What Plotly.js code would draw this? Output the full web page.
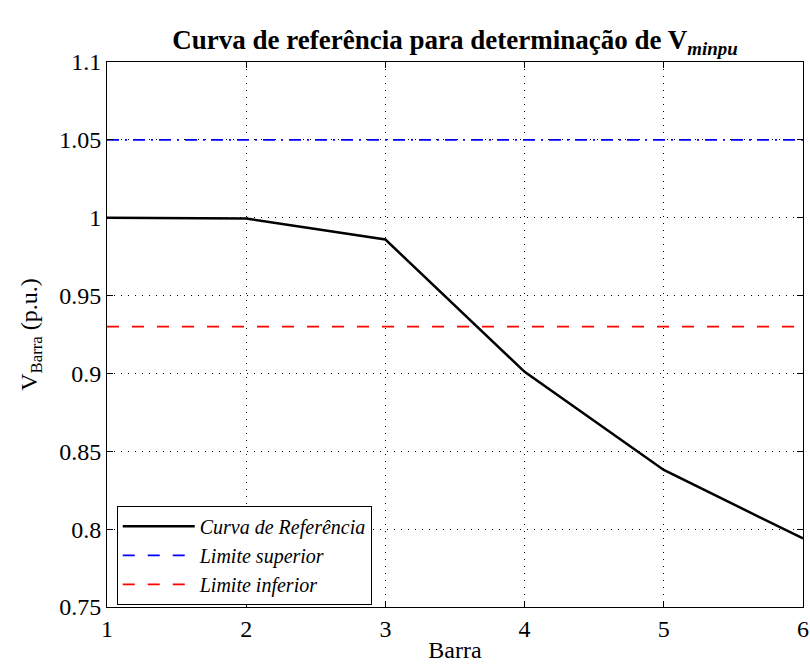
<!DOCTYPE html>
<html><head><meta charset="utf-8">
<script src="https://cdn.plot.ly/plotly-3.0.1.min.js"></script>
<style>body{margin:0;background:#fff}#c{width:810px;height:666px}</style>
</head><body><div id="c"></div>
<script>
const barra = [1, 2, 3, 4, 5, 6];
const vRef = [1.0, 0.9995, 0.986, 0.901, 0.838, 0.794];
const limSup = [1.05, 1.05];
const limInf = [0.93, 0.93];
const limX = [1, 6];
const names = ['Curva de Referência', 'Limite superior', 'Limite inferior'];

const F = '"Liberation Serif", "Times New Roman", Times, serif';
const traces = [
  {x: barra, y: vRef, mode: 'lines', name: '<i>' + names[0] + '</i>', line: {color: '#000', width: 2.5}},
  {x: limX, y: limSup, mode: 'lines', showlegend: false, line: {color: '#0000ff', width: 1.8, dash: '12px,6px,2px,6px'}},
  {x: [null], y: [null], mode: 'lines', name: '<i>' + names[1] + '</i>', line: {color: '#0000ff', width: 1.8, dash: '12px,13px'}},
  {x: limX, y: limInf, mode: 'lines', name: '<i>' + names[2] + '</i>', line: {color: '#ff0000', width: 1.8, dash: '12px,13px'}}
];
const ax = {
  showline: true, linecolor: '#000', linewidth: 1, mirror: 'ticks',
  ticks: 'inside', ticklen: 6, tickcolor: '#000',
  showgrid: true, gridcolor: '#000', griddash: '1px,6px', gridwidth: 1,
  zeroline: false, tickfont: {family: F, size: 24, color: '#000'}
};
const layout = {
  width: 810, height: 666,
  margin: {l: 107, r: 7, t: 62, b: 59},
  paper_bgcolor: '#fff', plot_bgcolor: '#fff',
  title: {text: '<b>Curva de referência para determinação de V<sub><i>minpu</i></sub></b>', font: {family: F, size: 27, color: '#000'}, x: 0.5, xref: 'paper', y: 0.94, yanchor: 'middle'},
  xaxis: Object.assign({}, ax, {range: [1, 6], tickvals: [1,2,3,4,5,6], title: {text: 'Barra', font: {family: F, size: 24, color: '#000'}, standoff: 0}}),
  yaxis: Object.assign({}, ax, {range: [0.75, 1.1], tickvals: [0.75,0.8,0.85,0.9,0.95,1,1.05,1.1], ticktext: ['0.75','0.8','0.85','0.9','0.95','1','1.05','1.1'], title: {text: 'V<sub>Barra</sub> (p.u.)', font: {family: F, size: 24, color: '#000'}, standoff: 14}}),
  legend: {x: 0.014, y: 0.004, xanchor: 'left', yanchor: 'bottom', bgcolor: '#fff', bordercolor: '#000', borderwidth: 1, font: {family: F, size: 20, color: '#000'}, tracegroupgap: 0, itemwidth: 72},
  showlegend: true
};
Plotly.newPlot('c', traces, layout, {displayModeBar: false, staticPlot: true});
</script></body></html>
